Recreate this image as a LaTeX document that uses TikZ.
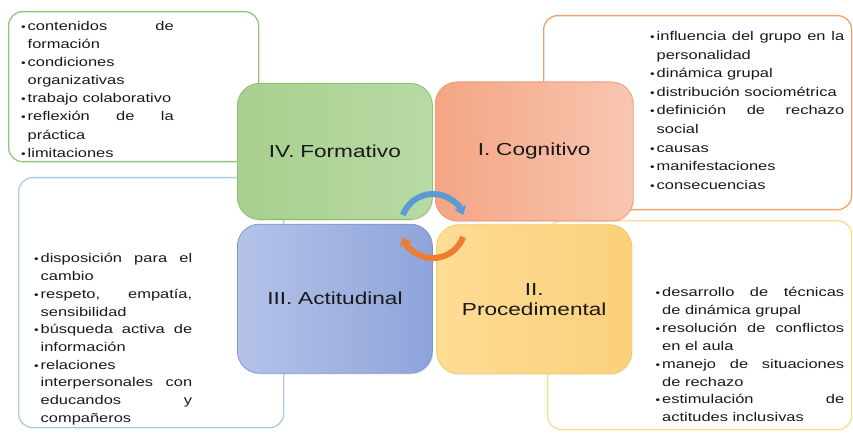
\documentclass[tikz,border=0pt]{standalone}
\usepackage{fontspec}
\setmainfont{Liberation Sans}[FakeStretch=1.3]
\usetikzlibrary{arrows.meta, positioning, shadows}

\definecolor{grnfr}{HTML}{92C47A}
\definecolor{orgfr}{HTML}{EDA36E}
\definecolor{blufr}{HTML}{A9CBE8}
\definecolor{yelfr}{HTML}{FBDC8C}
\definecolor{grnln}{HTML}{8FC070}
\definecolor{grnA}{HTML}{A8CF8E}
\definecolor{grnB}{HTML}{B8DAA5}
\definecolor{orgln}{HTML}{EE9C78}
\definecolor{orgA}{HTML}{F4A583}
\definecolor{orgB}{HTML}{F8C6B1}
\definecolor{bluln}{HTML}{7D95D1}
\definecolor{bluA}{HTML}{B5C3E9}
\definecolor{bluB}{HTML}{8EA4DA}
\definecolor{yelln}{HTML}{F5C95E}
\definecolor{yelA}{HTML}{FDDC95}
\definecolor{yelB}{HTML}{FBD07A}
\definecolor{arrblue}{HTML}{5B9BD5}
\definecolor{arrorange}{HTML}{ED7D31}

\newcommand{\labelfont}{\fontsize{17.4}{20}\selectfont}
\newcommand{\listfont}{\fontsize{12.65}{18.1}\selectfont\fontdimen3\font=40pt\fontdimen4\font=0pt}
\newcommand{\itm}[1]{\hangindent=6.5pt\hangafter=1\noindent\makebox[6.5pt][l]{\fontsize{10}{10}\selectfont\textbullet}#1\par}
\tolerance=10000 \hbadness=10000 \hyphenpenalty=10000 \exhyphenpenalty=10000

\tikzset{
    frame/.style={draw, line width=1.3pt, rounded corners=14pt, inner sep=0pt, anchor=north west},
    area/.style={draw, line width=0.8pt, rounded corners=22pt, inner sep=0pt, text width=160pt, align=center,
        font=\labelfont, text=black!90, drop shadow={opacity=0.15, shadow xshift=1pt, shadow yshift=-1.5pt}},
    items/.style={anchor=base west, inner sep=0pt, align=justify, font=\listfont, text=black!90},
    cycarrow/.style={line width=6pt, -{Triangle[width=12pt, length=8pt]}}
}

\begin{document}
\begin{tikzpicture}[x=1pt, y=-1pt]
    \useasboundingbox (0,0) rectangle (853,435);

    \node (formfr) [frame, draw=grnfr, minimum width=250pt, minimum height=150pt] at (8,11) {};
    \node (cogfr) [frame, draw=orgfr, minimum width=308pt, minimum height=194pt] at (543,15) {};
    \node (actfr) [frame, draw=blufr, minimum width=265pt, minimum height=250pt] at (18,177) {};
    \node (procfr) [frame, draw=yelfr, minimum width=304pt, minimum height=209pt] at (547,220) {};

    \node (form) [area, draw=grnln, left color=grnA, right color=grnB, minimum width=195pt, minimum height=136pt, anchor=north west] at (237,83) {IV. Formativo};
    \node (cog) [area, draw=orgln, left color=orgA, right color=orgB, minimum width=198pt, minimum height=139pt, right=2pt of form] {I. Cognitivo};
    \node (act) [area, draw=bluln, left color=bluA, right color=bluB, minimum width=195pt, minimum height=149pt, below=4pt of form] {III. Actitudinal};
    \node (proc) [area, draw=yelln, left color=yelA, right color=yelB, minimum width=195pt, minimum height=149pt, below=3pt of cog] {II. Procedimental};

    \coordinate (hub) at (433,226);
    \draw [cycarrow, draw=arrblue] ([shift={(200:32)}]hub) arc [start angle=200, end angle=340, radius=32];
    \draw [cycarrow, draw=arrorange] ([shift={(20:32)}]hub) arc [start angle=20, end angle=160, radius=32];

    \node (formlist) [items, text width=152.5pt] at (21,30.5) {%
        \itm{contenidos de formación}
        \itm{condiciones organizativas}
        \itm{trabajo colaborativo}
        \itm{reflexión de la práctica}
        \itm{limitaciones}};
    \node (coglist) [items, text width=194pt] at (650,40.5) {\baselineskip=18.6pt
        \itm{influencia del grupo en la personalidad}
        \itm{dinámica grupal}
        \itm{distribución sociométrica}
        \itm{definición de rechazo social}
        \itm{causas}
        \itm{manifestaciones}
        \itm{consecuencias}};
    \node (actlist) [items, text width=158pt] at (34,263) {\baselineskip=17.7pt
        \itm{disposición para el cambio}
        \itm{respeto, empatía, sensibilidad}
        \itm{búsqueda activa de información}
        \itm{relaciones interpersonales con educandos y compañeros}};
    \node (proclist) [items, text width=188.5pt] at (655.5,297) {\baselineskip=17.8pt
        \itm{desarrollo de técnicas de dinámica grupal}
        \itm{resolución de conflictos en el aula}
        \itm{manejo de situaciones de rechazo}
        \itm{estimulación de actitudes inclusivas}};
\end{tikzpicture}
\end{document}
